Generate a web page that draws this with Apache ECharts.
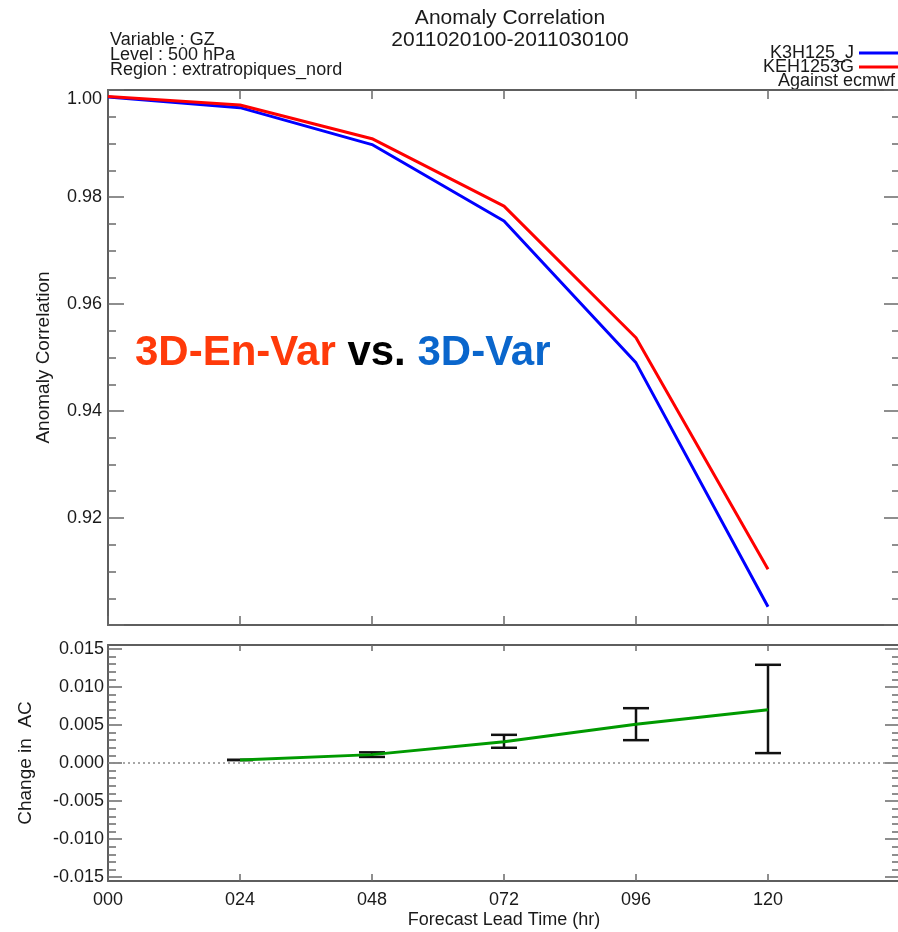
<!DOCTYPE html>
<html>
<head>
<meta charset="utf-8">
<script src="https://cdn.jsdelivr.net/npm/echarts@6/dist/echarts.min.js"></script>
<style>html,body{margin:0;padding:0;background:#fff;}#c{width:898px;height:932px;}</style>
</head>
<body>
<div id="c"></div>
<script>
// ---- data ----
const leadTimes = [0, 24, 48, 72, 96, 120];
const k3h125j = [0.9987, 0.9967, 0.9898, 0.9755, 0.9490, 0.9034];
const keh1253g = [0.9988, 0.9972, 0.9909, 0.9783, 0.9537, 0.9104];
const diffLead = [24, 48, 72, 96, 120];
const acChange = [0.0004, 0.0011, 0.0028, 0.0051, 0.0070];
const errLow = [0.0004, 0.0008, 0.0020, 0.0030, 0.0013];
const errHigh = [0.0004, 0.0014, 0.0037, 0.0072, 0.0129];
const xTickLabels = ['000', '024', '048', '072', '096', '120'];
const upperYMajor = [0.90, 0.92, 0.94, 0.96, 0.98, 1.00];
const lowerYMajor = [-0.015, -0.010, -0.005, 0.000, 0.005, 0.010, 0.015];
const seriesNames = ['K3H125_J', 'KEH1253G'];
const headerLines = ['Variable : GZ', 'Level : 500 hPa', 'Region : extratropiques_nord'];
const titleLines = ['Anomaly Correlation', '2011020100-2011030100'];

// minor tick positions (layout only)
const upperYMinor = [];
for (let i = 180; i <= 200; i++) { if (i % 4 !== 0) upperYMinor.push(+(i * 0.005).toFixed(3)); }
const lowerYMinor = [];
for (let i = -15; i <= 15; i++) { if (i % 5 !== 0) lowerYMinor.push(i / 1000); }

const FONT = "'Liberation Sans', Arial, Helvetica, sans-serif";
const FRAME = { show: true, onZero: false, lineStyle: { color: '#5e5e5e', width: 2 } };
const NOLINE = { show: false, onZero: false };
const TXT = '#1a1a1a';

function tick(len, vals) {
  const t = { show: true, inside: true, length: len, lineStyle: { color: '#6a6a6a', width: 1.5 } };
  if (vals) t.customValues = vals;
  return t;
}

const chart = echarts.init(document.getElementById('c'), null, { renderer: 'canvas' });

const option = {
  backgroundColor: '#fff',
  animation: false,
  textStyle: { fontFamily: FONT },
  title: {
    text: titleLines.join('\n'),
    left: 505, top: 2, textAlign: 'center',
    textStyle: { fontFamily: FONT, fontSize: 21, fontWeight: 'normal', color: TXT, lineHeight: 22 }
  },
  legend: {
    data: seriesNames,
    orient: 'vertical', right: -3, top: 44, padding: 0, align: 'right',
    icon: 'rect', itemWidth: 42, itemHeight: 3, itemGap: -4,
    textStyle: { fontFamily: FONT, fontSize: 18, color: TXT },
    selectedMode: false
  },
  graphic: [
    { type: 'text', left: 110, top: 31,
      style: { text: headerLines.join('\n'), font: '18px ' + FONT, fill: TXT, lineHeight: 15 } },
    { type: 'text', left: 778, top: 72,
      style: { text: 'Against ecmwf', font: '18px ' + FONT, fill: TXT } },
    { type: 'text', left: 135, top: 332,
      style: {
        text: '{a|3D-En-Var} {b|vs.} {c|3D-Var}',
        rich: {
          a: { fill: '#ff3a0a', font: 'bold 42px ' + FONT },
          b: { fill: '#000000', font: 'bold 42px ' + FONT },
          c: { fill: '#0a66cc', font: 'bold 42px ' + FONT }
        },
        font: 'bold 42px ' + FONT
      } }
  ],
  grid: [
    { left: 108, top: 90, width: 792, height: 535, show: false, outerBoundsMode: 'none', containLabel: false },
    { left: 108, top: 645, width: 792, height: 236, show: false, outerBoundsMode: 'none', containLabel: false }
  ],
  xAxis: [
    { type: 'value', gridIndex: 0, position: 'bottom', min: 0, max: 144, interval: 24,
      axisLine: FRAME, axisTick: tick(9), axisLabel: { show: false }, splitLine: { show: false } },
    { type: 'value', gridIndex: 0, position: 'top', min: 0, max: 144, interval: 24,
      axisLine: FRAME, axisTick: tick(9), axisLabel: { show: false }, splitLine: { show: false } },
    { type: 'value', gridIndex: 1, position: 'bottom', min: 0, max: 144, interval: 24,
      axisLine: FRAME, axisTick: tick(7), splitLine: { show: false },
      axisLabel: { show: true, margin: 10, fontFamily: FONT, fontSize: 18, color: TXT,
        customValues: [0, 24, 48, 72, 96, 120],
        formatter: v => { const i = Math.round(v / 24); return i < xTickLabels.length ? xTickLabels[i] : ''; } },
      name: 'Forecast Lead Time (hr)', nameLocation: 'middle', nameGap: 30,
      nameTextStyle: { fontFamily: FONT, fontSize: 18, color: TXT } },
    { type: 'value', gridIndex: 1, position: 'top', min: 0, max: 144, interval: 24,
      axisLine: FRAME, axisTick: tick(6), axisLabel: { show: false }, splitLine: { show: false } }
  ],
  yAxis: [
    // 0: upper left major + labels
    { type: 'value', gridIndex: 0, position: 'left', min: 0.90, max: 1.00,
      axisLine: FRAME, axisTick: tick(16, upperYMajor), splitLine: { show: false },
      axisLabel: { show: true, margin: 6, fontFamily: FONT, fontSize: 18, color: TXT,
        customValues: upperYMajor.filter(v => v > 0.905),
        verticalAlignMaxLabel: 'top',
        formatter: v => v.toFixed(2) },
      name: 'Anomaly Correlation', nameLocation: 'middle', nameGap: 55, nameRotate: 90,
      nameTextStyle: { fontFamily: FONT, fontSize: 19, color: TXT } },
    // 1: upper left minor
    { type: 'value', gridIndex: 0, position: 'left', min: 0.90, max: 1.00,
      axisLine: NOLINE, axisTick: tick(8, upperYMinor), splitLine: { show: false }, axisLabel: { show: false } },
    // 2: upper right major
    { type: 'value', gridIndex: 0, position: 'right', min: 0.90, max: 1.00,
      axisLine: FRAME, axisTick: tick(16, upperYMajor), splitLine: { show: false }, axisLabel: { show: false } },
    // 3: upper right minor
    { type: 'value', gridIndex: 0, position: 'right', min: 0.90, max: 1.00,
      axisLine: NOLINE, axisTick: tick(8, upperYMinor), splitLine: { show: false }, axisLabel: { show: false } },
    // 4: lower left major + labels
    { type: 'value', gridIndex: 1, position: 'left', min: -0.0155, max: 0.0155,
      axisLine: FRAME, splitLine: { show: false },
      axisTick: tick(14, lowerYMajor),
      axisLabel: { show: true, margin: 4, fontFamily: FONT, fontSize: 18, color: TXT,
        customValues: lowerYMajor, formatter: v => v.toFixed(3) },
      name: 'Change in  AC', nameLocation: 'middle', nameGap: 73, nameRotate: 90,
      nameTextStyle: { fontFamily: FONT, fontSize: 19, color: TXT } },
    // 5: lower left minor
    { type: 'value', gridIndex: 1, position: 'left', min: -0.0155, max: 0.0155,
      axisLine: NOLINE, splitLine: { show: false }, axisLabel: { show: false },
      axisTick: tick(8, lowerYMinor) },
    // 6: lower right major
    { type: 'value', gridIndex: 1, position: 'right', min: -0.0155, max: 0.0155,
      axisLine: FRAME, splitLine: { show: false }, axisLabel: { show: false },
      axisTick: tick(15, lowerYMajor) },
    // 7: lower right minor
    { type: 'value', gridIndex: 1, position: 'right', min: -0.0155, max: 0.0155,
      axisLine: NOLINE, splitLine: { show: false }, axisLabel: { show: false },
      axisTick: tick(8, lowerYMinor) }
  ],
  series: [
    { name: seriesNames[0], type: 'line', xAxisIndex: 0, yAxisIndex: 0, symbol: 'none',
      color: '#0000ff', lineStyle: { color: '#0000ff', width: 3 },
      data: leadTimes.map((x, i) => [x, k3h125j[i]]), z: 3 },
    { name: seriesNames[1], type: 'line', xAxisIndex: 0, yAxisIndex: 0, symbol: 'none',
      color: '#ff0000', lineStyle: { color: '#ff0000', width: 3 },
      data: leadTimes.map((x, i) => [x, keh1253g[i]]), z: 4 },
    { name: 'errorbars', type: 'custom', xAxisIndex: 2, yAxisIndex: 4, z: 3,
      data: diffLead.map((x, i) => [x, errLow[i], errHigh[i]]),
      encode: { x: 0, y: [1, 2] },
      renderItem: function (params, api) {
        const x = api.value(0);
        const pLo = api.coord([x, api.value(1)]);
        const pHi = api.coord([x, api.value(2)]);
        const hw = 13;
        const st = { stroke: '#111111', lineWidth: 2.5 };
        return { type: 'group', children: [
          { type: 'line', shape: { x1: pLo[0], y1: pLo[1], x2: pHi[0], y2: pHi[1] }, style: st },
          { type: 'line', shape: { x1: pLo[0] - hw, y1: pLo[1], x2: pLo[0] + hw, y2: pLo[1] }, style: st },
          { type: 'line', shape: { x1: pHi[0] - hw, y1: pHi[1], x2: pHi[0] + hw, y2: pHi[1] }, style: st }
        ] };
      } },
    { name: 'diff', type: 'line', xAxisIndex: 2, yAxisIndex: 4, symbol: 'none', z: 4,
      lineStyle: { color: '#009a00', width: 3 },
      data: diffLead.map((x, i) => [x, acChange[i]]),
      markLine: { silent: true, symbol: 'none', label: { show: false },
        lineStyle: { color: '#8a8a8a', type: [2, 3], width: 1.5 },
        data: [{ yAxis: 0 }] } }
  ]
};
chart.setOption(option);
</script>
</body>
</html>
